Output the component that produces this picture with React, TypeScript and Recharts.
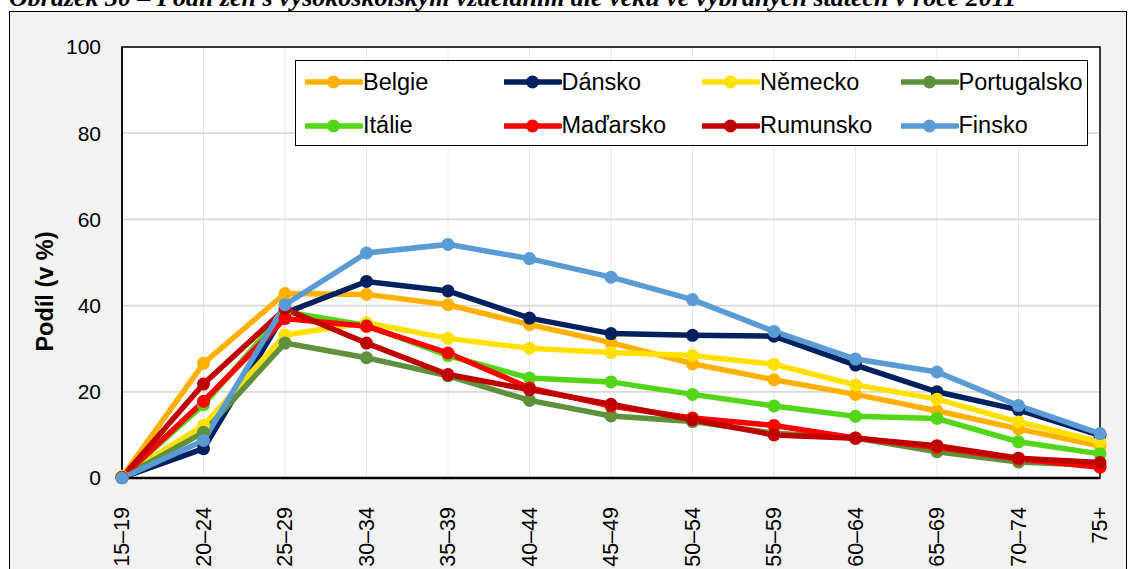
import React from 'react';
import { LineChart, Line, XAxis, YAxis, CartesianGrid, Legend, ReferenceArea } from 'recharts';

const ages = ['15–19', '20–24', '25–29', '30–34', '35–39', '40–44', '45–49', '50–54', '55–59', '60–64', '65–69', '70–74', '75+'];

const belgie = [0.2, 26.6, 42.8, 42.6, 40.2, 35.6, 31.4, 26.5, 22.8, 19.4, 15.6, 11.4, 7.4];
const dansko = [0.1, 6.8, 38.3, 45.6, 43.4, 37.1, 33.5, 33.1, 32.9, 26.2, 20.0, 15.8, 9.9];
const nemecko = [0.4, 12.2, 33.2, 36.0, 32.4, 30.1, 29.1, 28.4, 26.4, 21.6, 18.3, 13.0, 8.4];
const portugalsko = [0.1, 10.6, 31.3, 27.9, 23.7, 18.0, 14.4, 13.1, 10.4, 9.3, 6.1, 3.7, 2.9];
const italie = [0.2, 17.0, 38.6, 35.4, 28.4, 23.2, 22.3, 19.4, 16.7, 14.3, 13.8, 8.4, 5.6];
const madarsko = [0.1, 17.8, 37.0, 35.2, 29.0, 20.9, 16.7, 13.9, 12.2, 9.3, 7.1, 4.4, 2.5];
const rumunsko = [0.1, 21.8, 39.2, 31.3, 24.0, 20.5, 17.1, 13.5, 10.0, 9.2, 7.5, 4.6, 3.6];
const finsko = [0.0, 8.7, 40.2, 52.2, 54.2, 50.9, 46.6, 41.4, 34.0, 27.6, 24.6, 16.8, 10.3];

const yTicks = [0, 20, 40, 60, 80, 100];

const series = [
  { key: 'Belgie', values: belgie, color: '#FFB000' },
  { key: 'Dánsko', values: dansko, color: '#002060' },
  { key: 'Německo', values: nemecko, color: '#FFE000' },
  { key: 'Portugalsko', values: portugalsko, color: '#5E913A' },
  { key: 'Itálie', values: italie, color: '#52D617' },
  { key: 'Maďarsko', values: madarsko, color: '#FF0000' },
  { key: 'Rumunsko', values: rumunsko, color: '#C00000' },
  { key: 'Finsko', values: finsko, color: '#5B9BD5' },
];

const data = ages.map((age, i) => {
  const row: Record<string, string | number> = { age };
  series.forEach(s => { row[s.key] = s.values[i]; });
  return row;
});

const FONT = 'Arial, "Liberation Sans", sans-serif';

const AgeTick = (props: any) => {
  const { x, y, payload } = props;
  return (
    <text x={x} y={y + 21} transform={`rotate(-90 ${x} ${y + 21})`} textAnchor="end" dominantBaseline="central"
      fontFamily={FONT} fontSize={21.5} fill="#000">
      {payload.value}
    </text>
  );
};

const YLabel = (props: any) => {
  const { viewBox } = props;
  const x = viewBox.x + 45;
  const y = viewBox.y + viewBox.height / 2 + 29;
  return (
    <text x={x} y={y} transform={`rotate(-90 ${x} ${y})`} textAnchor="middle" dominantBaseline="central"
      fontFamily={FONT} fontSize={23.5} fontWeight="bold" fill="#000">
      Podíl (v %)
    </text>
  );
};

const LegendBox = () => (
  <div style={{
    width: 793, height: 86, boxSizing: 'border-box', border: '1.5px solid #000', background: '#fff',
    position: 'relative', fontFamily: FONT, fontSize: 23.5, color: '#000',
  }}>
    {series.map((s, i) => {
      const col = i % 4;
      const row = Math.floor(i / 4);
      return (
        <div key={s.key} style={{ position: 'absolute', left: 9 + col * 198.5, top: 21 + row * 43.5 - 14, height: 28, display: 'flex', alignItems: 'center', whiteSpace: 'nowrap' }}>
          <svg width={58} height={28} style={{ display: 'block' }}>
            <line x1={1} y1={14} x2={56} y2={14} stroke={s.color} strokeWidth={5.5} strokeLinecap="round" />
            <circle cx={28.5} cy={14} r={6.5} fill={s.color} />
          </svg>
          <span style={{ marginLeft: 0 }}>{s.key}</span>
        </div>
      );
    })}
  </div>
);

export default function App() {
  return (
    <div style={{ position: 'absolute', left: 0, top: 0, width: 1129, height: 569, overflow: 'hidden', background: '#fff' }}>
      <svg width={1129} height={20} style={{ position: 'absolute', left: 0, top: 0 }}>
        <text x={9} y={6} fontFamily='"Liberation Serif", "Times New Roman", serif' fontSize={26} fontWeight="bold" fontStyle="italic" fill="#000">
          Obrázek 30 – Podíl žen s vysokoškolským vzděláním dle věku ve vybraných státech v roce 2011
        </text>
      </svg>
      <div style={{ position: 'absolute', left: 9, top: 11, width: 1118, height: 600, boxSizing: 'border-box', border: '1.5px solid #000', background: '#f2f2f2' }} />
      <div style={{ position: 'absolute', left: 0, top: 0 }}>
        <LineChart width={1129} height={569} data={data} margin={{ top: 47, right: 29, left: 0, bottom: 0 }}>
          <CartesianGrid horizontal={false} vertical stroke="#e6e6e6" strokeWidth={1} fill="#fff" />
          <CartesianGrid horizontal vertical={false} stroke="#d9d9d9" strokeWidth={1.8} />
          <XAxis dataKey="age" height={91} tick={<AgeTick />} tickLine={false} axisLine={{ stroke: '#000', strokeWidth: 2.5 }} interval={0} />
          <YAxis domain={[0, 100]} ticks={yTicks} width={122} tickLine={false} tickMargin={15}
            axisLine={{ stroke: '#000', strokeWidth: 1.5 }}
            tick={{ fontFamily: FONT, fontSize: 21, fill: '#000' }}
            label={<YLabel />} />
          <ReferenceArea x1={ages[0]} x2={ages[ages.length - 1]} y1={0} y2={100} fill="none" stroke="#000" strokeWidth={1.5} ifOverflow="visible" />
          <Legend layout="horizontal" verticalAlign="middle" align="center" content={<LegendBox />}
            wrapperStyle={{ left: 295, top: 60, width: 793, height: 86 }} />
          {series.map(s => (
            <Line key={s.key} dataKey={s.key} name={s.key} stroke={s.color} strokeWidth={5.5}
              dot={{ r: 6.5, fill: s.color, stroke: s.color, strokeWidth: 0 }}
              activeDot={false} isAnimationActive={false} />
          ))}
        </LineChart>
      </div>
    </div>
  );
}
